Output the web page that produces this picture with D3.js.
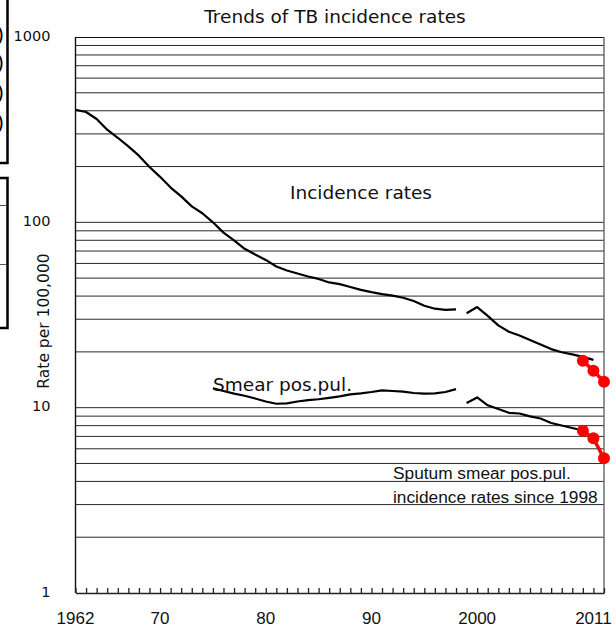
<!DOCTYPE html>
<html>
<head>
<meta charset="utf-8">
<script src="https://cdn.jsdelivr.net/npm/d3@7"></script>
<style>
  html, body { margin: 0; padding: 0; background: #fff; }
  svg { display: block; }
</style>
</head>
<body>
<svg id="chart" width="616" height="630"></svg>
<script>
// ---------------- data ----------------
const titleText = "Trends of TB incidence rates";
const yTickValues = [1, 10, 100, 1000];
const xLabelYears = [1962, 1970, 1980, 1990, 2000, 2011];
const xLabelTexts = ["1962", "70", "80", "90", "2000", "2011"];

const incidenceYears1 = d3.range(1962, 1999);
const incidence1 = [404, 394, 361, 316, 286, 257, 229, 199, 176, 154, 138, 122, 112, 100, 88, 80, 72, 67,
  62.7, 57.8, 55, 53, 51, 49.5, 47.4, 46.4, 44.8, 43.2, 42, 41, 40.2, 39.2, 37.6, 35.5, 34.2, 33.7, 33.9];

const incidenceYears2 = d3.range(1999, 2012);
const incidence2 = [32.3, 34.9, 31.3, 27.8, 25.7, 24.5, 23.2, 21.9, 20.7, 19.9, 19.4, 18.8, 18.1];

const smearYears1 = d3.range(1975, 1999);
const smear1 = [12.7, 12.3, 11.9, 11.6, 11.2, 10.8, 10.5, 10.55, 10.8, 10.97, 11.1, 11.3, 11.5, 11.8,
  11.95, 12.15, 12.4, 12.3, 12.2, 12.0, 11.9, 11.95, 12.15, 12.6];

const smearYears2 = d3.range(1999, 2011);
const smear2 = [10.6, 11.35, 10.3, 9.83, 9.38, 9.3, 8.97, 8.74, 8.27, 8.01, 7.77, 7.53];

const recentYears = [2010, 2011, 2012];
const incidenceRecent = [17.9, 15.8, 13.8];
const smearRecent = [7.51, 6.83, 5.33];

// ---------------- drawing ----------------
(function () {
const svg = d3.select("#chart");
const pLeft = 75.5, pRight = 604, pTop = 37, pBottom = 593;

const x = d3.scaleLinear().domain([1962, 2012]).range([pLeft, pRight]);
const y = d3.scaleLog().domain([1, 1000]).range([pBottom, pTop]);

// cropped neighbouring boxes at the far left
const side = svg.append("g");
side.append("path")
  .attr("d", `M0,163 H7.5 V-2`)
  .attr("fill", "none").attr("stroke", "#000").attr("stroke-width", 2.5);
side.append("path")
  .attr("d", `M0,178 H7.5 V328 H0`)
  .attr("fill", "none").attr("stroke", "#000").attr("stroke-width", 2.5);
[205, 264].forEach(v => side.append("line")
  .attr("x1", 0).attr("x2", 6).attr("y1", v + 0.5).attr("y2", v + 0.5)
  .attr("stroke", "#555").attr("stroke-width", 1));
[34, 62, 92, 122].forEach(v => side.append("text")
  .attr("x", -3).attr("y", v + 7)
  .attr("font-family", "Liberation Sans, Arial, sans-serif").attr("font-size", 20).attr("fill", "#000").text(")"));

// gridlines
const gridValues = [];
[1, 10, 100].forEach(k => d3.range(1, 10).forEach(m => { if (k * m > 1) gridValues.push(k * m); }));
svg.append("g").selectAll("line").data(gridValues).join("line")
  .attr("x1", pLeft).attr("x2", pRight)
  .attr("y1", d => y(d)).attr("y2", d => y(d))
  .attr("stroke", "#2a2a2a").attr("stroke-width", 1);

// frame
svg.append("line").attr("x1", pLeft).attr("x2", pRight).attr("y1", pTop + 0.5).attr("y2", pTop + 0.5)
  .attr("stroke", "#111").attr("stroke-width", 1.2);
svg.append("line").attr("x1", pLeft).attr("x2", pLeft).attr("y1", pTop).attr("y2", pBottom)
  .attr("stroke", "#111").attr("stroke-width", 1.4);
svg.append("line").attr("x1", pRight).attr("x2", pRight).attr("y1", pTop).attr("y2", pBottom)
  .attr("stroke", "#666").attr("stroke-width", 1.4);

// bottom axis with inward yearly ticks
const xAxis = d3.axisBottom(x).tickValues(d3.range(1962, 2013)).tickSize(-5).tickSizeOuter(0).tickFormat("");
const gx = svg.append("g").attr("transform", `translate(0,${pBottom})`).call(xAxis);
gx.selectAll("path,line").attr("stroke", "#222").attr("stroke-width", 1.3);

svg.append("g").selectAll("text").data(xLabelYears).join("text")
  .attr("x", d => x(d)).attr("y", 624).attr("text-anchor", "middle")
  .attr("font-family", "Liberation Sans, Arial, sans-serif").attr("font-size", 17).attr("fill", "#111")
  .text((d, i) => xLabelTexts[i]);

// left axis labels
const yAxis = d3.axisLeft(y).tickValues(yTickValues).tickSize(0).tickPadding(25).tickFormat(d3.format("d"));
const gy = svg.append("g").attr("transform", `translate(${pLeft},0)`).call(yAxis);
gy.select(".domain").remove();
gy.selectAll("text").attr("font-family", "DejaVu Sans").attr("font-size", 14.5).attr("fill", "#111").attr("dy", "0.22em");

svg.append("text")
  .attr("transform", `translate(49,321) rotate(-90)`)
  .attr("text-anchor", "middle")
  .attr("font-family", "DejaVu Sans").attr("font-size", 15.5).attr("fill", "#111")
  .text("Rate per 100,000");

// title
svg.append("text").attr("x", 335).attr("y", 23).attr("text-anchor", "middle")
  .attr("font-family", "DejaVu Sans").attr("font-size", 18.5).attr("fill", "#111").text(titleText);

// series lines
const line = d3.line().x(d => x(d[0])).y(d => y(d[1]));
const series = [
  d3.zip(incidenceYears1, incidence1),
  d3.zip(incidenceYears2, incidence2),
  d3.zip(smearYears1, smear1),
  d3.zip(smearYears2, smear2)
];
svg.append("g").selectAll("path").data(series).join("path")
  .attr("d", line)
  .attr("fill", "none").attr("stroke", "#000").attr("stroke-width", 2.2)
  .attr("stroke-linejoin", "round");

// recent red points
[incidenceRecent, smearRecent].forEach(vals => {
  const pts = d3.zip(recentYears, vals);
  svg.append("path").attr("d", line(pts))
    .attr("fill", "none").attr("stroke", "#ff0000").attr("stroke-width", 3.5);
  svg.append("g").selectAll("circle").data(pts).join("circle")
    .attr("cx", d => x(d[0])).attr("cy", d => y(d[1])).attr("r", 6)
    .attr("fill", "#ff0000");
});

// annotations
svg.append("text").attr("x", 290).attr("y", 199)
  .attr("font-family", "DejaVu Sans").attr("font-size", 18.5).attr("fill", "#111").text("Incidence rates");
svg.append("text").attr("x", 213).attr("y", 391)
  .attr("font-family", "DejaVu Sans").attr("font-size", 18.5).attr("fill", "#111").text("Smear pos.pul.");
svg.append("text").attr("x", 393).attr("y", 479)
  .attr("font-family", "Liberation Sans, Arial, sans-serif").attr("font-size", 17.3).attr("fill", "#111")
  .text("Sputum smear pos.pul.");
svg.append("text").attr("x", 393).attr("y", 503)
  .attr("font-family", "Liberation Sans, Arial, sans-serif").attr("font-size", 17.3).attr("fill", "#111")
  .text("incidence rates since 1998");
})();
</script>
</body>
</html>
